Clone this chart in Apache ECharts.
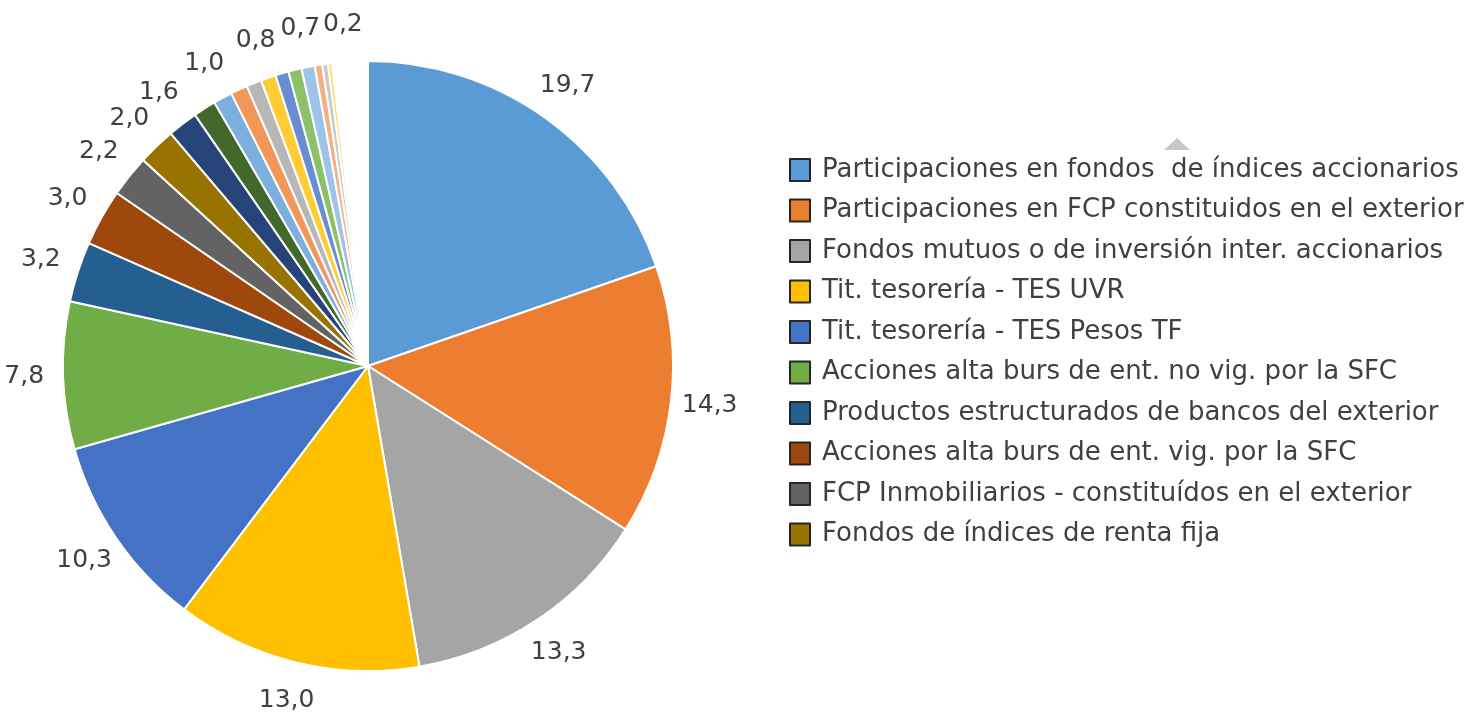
<!DOCTYPE html>
<html>
<head>
<meta charset="utf-8">
<script src="https://cdn.jsdelivr.net/npm/echarts@6/dist/echarts.min.js"></script>
<style>
  html, body { margin: 0; padding: 0; background: #fff; }
  #chart { width: 1464px; height: 713px; }
</style>
</head>
<body>
<div id="chart"></div>
<script>
// categories shown in the legend (first ten), then the small unnamed ones
var categories = [
    'Participaciones en fondos  de índices accionarios',
    'Participaciones en FCP constituidos en el exterior',
    'Fondos mutuos o de inversión inter. accionarios',
    'Tit. tesorería - TES UVR',
    'Tit. tesorería - TES Pesos TF',
    'Acciones alta burs de ent. no vig. por la SFC',
    'Productos estructurados de bancos del exterior',
    'Acciones alta burs de ent. vig. por la SFC',
    'FCP Inmobiliarios - constituídos en el exterior',
    'Fondos de índices de renta fija',
    'Categoría 11', 'Categoría 12', 'Categoría 13', 'Categoría 14',
    'Categoría 15', 'Categoría 16', 'Categoría 17', 'Categoría 18',
    'Categoría 19', 'Categoría 20', 'Categoría 21', 'Categoría 22',
    'Resto'
];
var values = [19.7, 14.3, 13.3, 13.0, 10.3, 7.8, 3.2, 3.0, 2.2, 2.0,
              1.6, 1.2, 1.0, 0.9, 0.8, 0.8, 0.7, 0.7, 0.7, 0.4, 0.3, 0.2, 1.9];
var colors = ['#5B9BD5', '#ED7D31', '#A5A5A5', '#FFC000', '#4472C4', '#70AD47',
              '#255E91', '#9E480E', '#636363', '#997300', '#264478', '#43682B',
              '#7CAFDD', '#F1975A', '#B7B7B7', '#FFCD33', '#698ED0', '#8CC168',
              '#9DC3E6', '#F4B183', '#C9C9C9', '#FFD966', '#ffffff'];
// which slices carry a value label
var labelled = [0, 1, 2, 3, 4, 5, 6, 7, 8, 9, 10, 12, 15, 18, 21];

var FONT = 'DejaVu Sans, Verdana, sans-serif';

var chartDom = document.getElementById('chart');
var myChart = echarts.init(chartDom);

var pieData = [];
var labelData = [];
for (var i = 0; i < values.length; i++) {
    var item = {
        name: categories[i],
        value: values[i],
        itemStyle: { color: colors[i] }
    };
    if (categories[i] === 'Resto') {
        item.itemStyle = { color: '#ffffff', borderWidth: 0 };
    }
    pieData.push(item);
    var lab = { show: labelled.indexOf(i) >= 0 };
    // last label nudged right so it does not sit on top of "0,7"
    if (i === 21) lab.offset = [18, 0];
    labelData.push({ name: categories[i], value: values[i], label: lab });
}

var option = {
    animation: false,
    textStyle: { fontFamily: FONT },
    legend: {
        orient: 'vertical',
        left: 784,
        top: 152,
        data: categories.slice(0, 10),
        icon: 'rect',
        itemWidth: 20,
        itemHeight: 22,
        itemGap: 14.5,
        itemStyle: { borderColor: '#262626', borderWidth: 2 },
        textStyle: {
            fontSize: 26, color: '#404040', fontFamily: FONT,
            padding: [0, 0, 0, 7]
        },
        selectedMode: false
    },
    graphic: [{
        type: 'polygon',
        shape: { points: [[1164, 150], [1190, 150], [1177, 138]] },
        style: { fill: '#c8c8c8' }
    }],
    series: [{
        type: 'pie',
        center: [368, 366],
        radius: 305,
        startAngle: 90,
        clockwise: true,
        silent: true,
        itemStyle: { borderColor: '#ffffff', borderWidth: 2 },
        label: { show: false },
        labelLine: { show: false },
        data: pieData
    }, {
        // transparent ring that only carries the value labels outside the pie
        type: 'pie',
        center: [368, 366],
        radius: [313, 369],
        startAngle: 90,
        clockwise: true,
        silent: true,
        legendHoverLink: false,
        itemStyle: { color: 'rgba(0,0,0,0)', borderWidth: 0 },
        labelLayout: { hideOverlap: false },
        label: {
            position: 'inside',
            fontSize: 25,
            color: '#404040',
            fontFamily: FONT,
            formatter: function (p) {
                return p.value.toFixed(1).replace('.', ',');
            }
        },
        labelLine: { show: false },
        data: labelData
    }]
};

option && myChart.setOption(option);
</script>
</body>
</html>
